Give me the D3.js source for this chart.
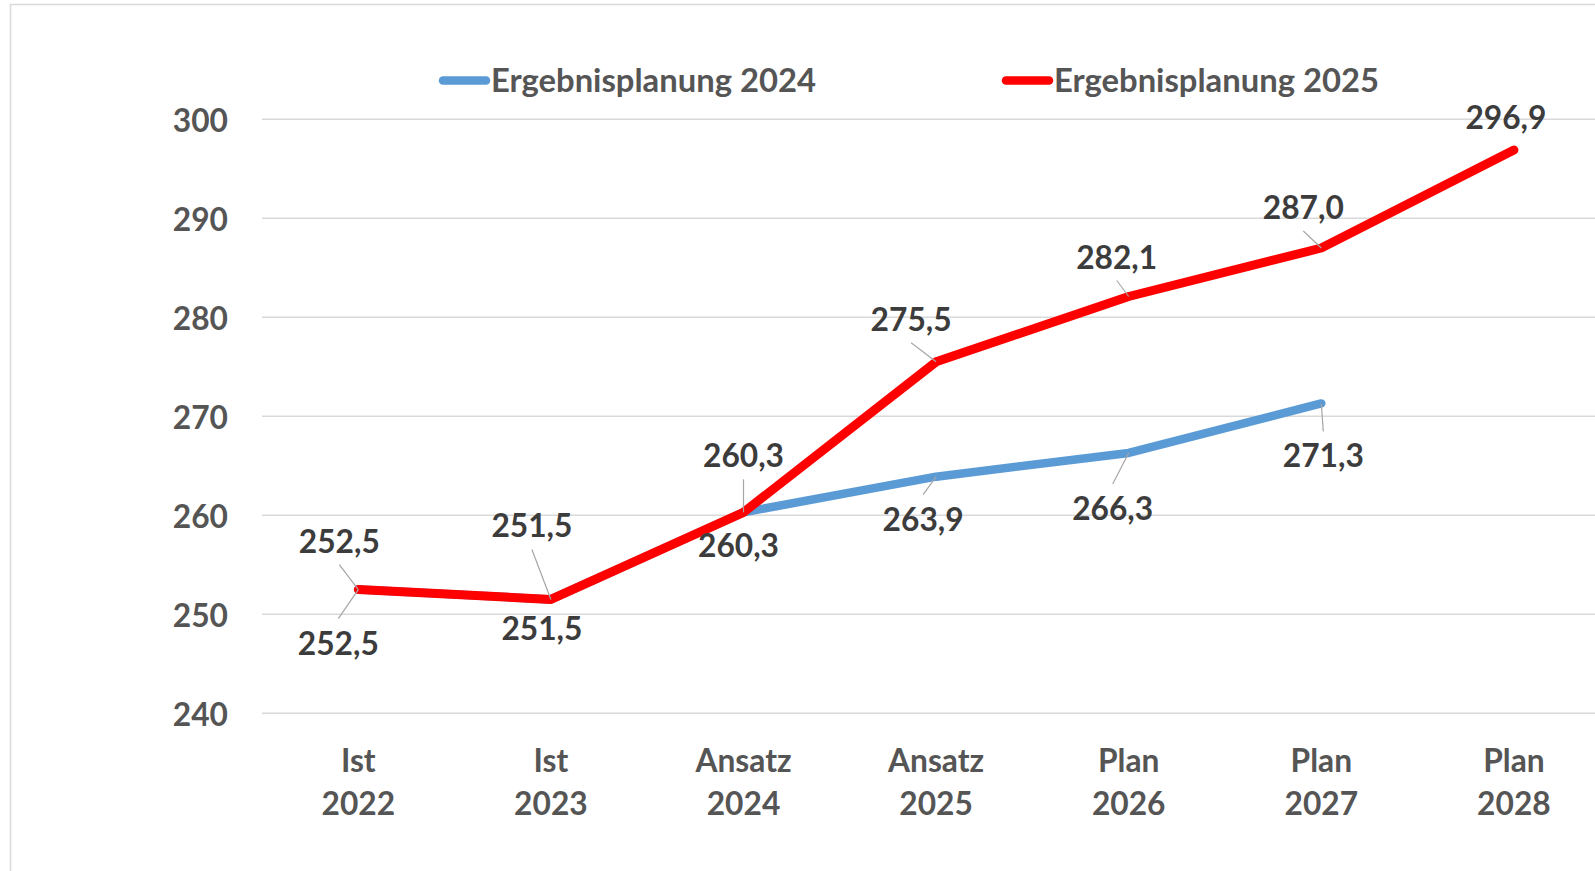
<!DOCTYPE html>
<html>
<head>
<meta charset="utf-8">
<script src="https://cdn.jsdelivr.net/npm/d3@7"></script>
<style>
    body { margin: 0; background: #fff; }
    svg text { font-family: Lato, 'Open Sans', sans-serif; font-weight: bold; }
</style>
</head>
<body>
<svg id="linechart" width="1595" height="871"></svg>
<script>
// data
const categories = [['Ist', '2022'], ['Ist', '2023'], ['Ansatz', '2024'], ['Ansatz', '2025'],
    ['Plan', '2026'], ['Plan', '2027'], ['Plan', '2028']];
const plan2024 = [252.5, 251.5, 260.3, 263.9, 266.3, 271.3];
const plan2025 = [252.5, 251.5, 260.3, 275.5, 282.1, 287.0, 296.9];
const seriesNames = ['Ergebnisplanung 2024', 'Ergebnisplanung 2025'];
const yTicks = [240, 250, 260, 270, 280, 290, 300];

// label placement relative to the point (center x, baseline)
const offs2024 = [[-20, 65], [-9, 41], [-5, 45], [-13, 54], [-16, 67], [2, 64]];
const offs2025 = [[-19, -37], [-19, -62], [0, -45], [-25, -31], [-12, -28], [-18, -29], [-8, -21]];

const svg = d3.select('svg#linechart');
const W = +svg.attr('width');
const textCol = '#3c3c3c';
const axisCol = '#555555';
const fontSize = 33;

const x = d3.scaleBand().domain(d3.range(categories.length)).range([262, 262 + 7 * 192.6]);
const cx = i => x(i) + x.bandwidth() / 2;
const y = d3.scaleLinear().domain([240, 300]).range([713.3, 119.3]);

// chart frame
svg.append('rect')
    .attr('x', 10.5).attr('y', 4.5)
    .attr('width', W + 20).attr('height', 900)
    .attr('fill', 'none').attr('stroke', '#d9d9d9').attr('stroke-width', 1.5);

// y axis labels
const yAxis = d3.axisLeft(y).tickValues(yTicks).tickSize(0).tickPadding(0).tickFormat(d3.format('d'));
const gy = svg.append('g').attr('transform', 'translate(228,0)').call(yAxis);
gy.select('.domain').remove();
gy.selectAll('text')
    .attr('font-size', fontSize).attr('fill', axisCol)
    .attr('dy', '0.36em')
    .style('font-family', null);

// grid lines
svg.append('g').selectAll('line').data(yTicks).enter().append('line')
    .attr('x1', 262).attr('x2', W)
    .attr('y1', d => y(d)).attr('y2', d => y(d))
    .attr('stroke', '#d9d9d9').attr('stroke-width', 1.5);

// x axis labels (two lines)
const xl = svg.append('g');
categories.forEach((c, i) => {
    xl.append('text').attr('x', cx(i)).attr('y', 771.5).attr('text-anchor', 'middle')
        .attr('font-size', fontSize).attr('fill', axisCol).text(c[0]);
    xl.append('text').attr('x', cx(i)).attr('y', 815).attr('text-anchor', 'middle')
        .attr('font-size', fontSize).attr('fill', axisCol).text(c[1]);
});

// lines
const line = d3.line().x((d, i) => cx(i)).y(d => y(d));
svg.append('path').datum(plan2024).attr('d', line)
    .attr('fill', 'none').attr('stroke', '#5b9bd5').attr('stroke-width', 8.5)
    .attr('stroke-linecap', 'round').attr('stroke-linejoin', 'round');
svg.append('path').datum(plan2025).attr('d', line)
    .attr('fill', 'none').attr('stroke', '#ff0000').attr('stroke-width', 9)
    .attr('stroke-linecap', 'round').attr('stroke-linejoin', 'round');

const fmt = v => d3.format('.1f')(v).replace('.', ',');

function drawLabels(values, offs, above) {
    const g = svg.append('g');
    values.forEach((v, i) => {
        const px = cx(i), py = y(v);
        const lx = px + offs[i][0], ly = py + offs[i][1];
        // leader line
        const ex = lx, ey = above ? ly + 12 : ly - 36;
        if (Math.hypot(ex - px, ey - py) > 15) {
            g.append('line')
                .attr('x1', ex).attr('y1', ey).attr('x2', px).attr('y2', py)
                .attr('stroke', '#a6a6a6').attr('stroke-width', 1.2);
        }
        g.append('text').attr('class', 'dlabel')
            .attr('x', lx).attr('y', ly).attr('text-anchor', 'middle')
            .attr('font-size', fontSize).attr('fill', textCol)
            .text(fmt(v));
    });
}
drawLabels(plan2024, offs2024, false);
drawLabels(plan2025, offs2025, true);

// legend
const legendX = [439, 1002];
const leg = svg.append('g');
seriesNames.forEach((n, i) => {
    leg.append('line')
        .attr('x1', legendX[i] + 4).attr('x2', legendX[i] + 47)
        .attr('y1', 80.5).attr('y2', 80.5)
        .attr('stroke', i == 0 ? '#5b9bd5' : '#ff0000').attr('stroke-width', 8.5)
        .attr('stroke-linecap', 'round');
    leg.append('text').attr('class', 'legtext')
        .attr('x', legendX[i] + 52).attr('y', 92)
        .attr('font-size', fontSize).attr('fill', axisCol)
        .text(n);
});

// narrow the font a bit so it takes the width of the original one
const probe = svg.select('text.dlabel').node();
const k = 81 / probe.getComputedTextLength();
svg.selectAll('text').each(function () {
    const w = this.getComputedTextLength();
    d3.select(this).attr('textLength', w * k).attr('lengthAdjust', 'spacingAndGlyphs');
});
svg.selectAll('text.legtext').attr('textLength', 325);
</script>
</body>
</html>
